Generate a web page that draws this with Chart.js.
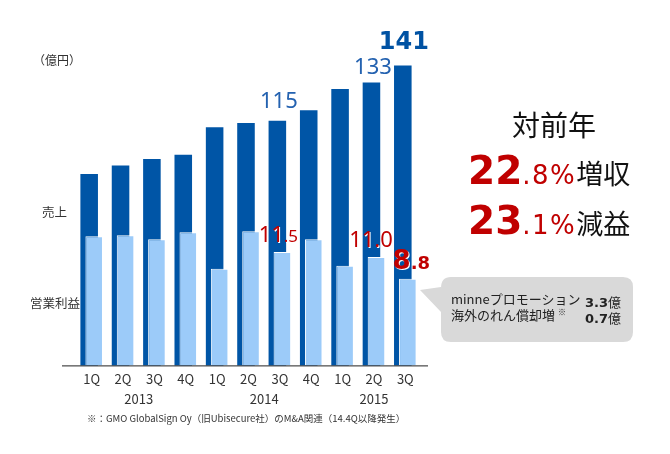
<!DOCTYPE html>
<html lang="ja">
<head>
<meta charset="utf-8">
<script src="https://cdn.jsdelivr.net/npm/chart.js@4.4.0/dist/chart.umd.min.js"></script>
<style>
  html, body { margin: 0; padding: 0; background: #fff; }
  #wrap { position: relative; width: 670px; height: 454px; overflow: hidden; font-family: "Noto Sans CJK JP", sans-serif; color: #333; }
  #chart { position: absolute; left: 0; top: 0; }
  .note { position: absolute; white-space: nowrap; line-height: 1; }
  #unit { left: 33px; top: 54px; font-size: 12px; }
  #salesTag { left: 42px; top: 206px; font-size: 12.5px; }
  #profitTag { left: 30px; top: 297px; font-size: 12.5px; }
  #footnote { left: 87px; top: 414px; font-size: 9.5px; }
  #yoy { left: 512px; top: 110px; font-size: 28px; color: #111; }
  .rate b { font: bold 39px "DejaVu Sans"; color: #c00000; }
  .rate .dec { font: 26px "DejaVu Sans"; color: #c00000; letter-spacing: 1.5px; }
  .rate .kanji { font-size: 27px; color: #111; }
  #rate1 { left: 468px; top: 148px; }
  #rate2 { left: 468px; top: 198px; }
  #bubble { position: absolute; left: 0; top: 0; }
  .bline { font-size: 13px; color: #222; }
  .bline .amt { position: absolute; left: 134px; font: bold 13px "DejaVu Sans"; }
  .bline .amt i { font: normal 13px "Noto Sans CJK JP"; }
  .bline sup { font-size: 8px; vertical-align: 5px; margin-left: 3px; }
  #bl1 { left: 451px; top: 292px; }
  #bl2 { left: 451px; top: 308px; }
</style>
</head>
<body>
<div id="wrap">
  <canvas id="chart" width="670" height="454"></canvas>
  <svg id="bubble" width="670" height="454">
    <path d="M441,287 L441,288 Q441,277 451,277 L623,277 Q633,277 633,287 L633,332 Q633,342 623,342 L451,342 Q441,342 441,332 L441,312 L420,290 Z" fill="#d9d9d9"/>
  </svg>
  <div class="note" id="unit">（億円）</div>
  <div class="note" id="salesTag">売上</div>
  <div class="note" id="profitTag">営業利益</div>
  <div class="note" id="footnote">※：GMO GlobalSign Oy（旧Ubisecure社）のM&amp;A関連（14.4Q以降発生）</div>
  <div class="note" id="yoy">対前年</div>
  <div class="note rate" id="rate1"><b>22</b><span class="dec">.8%</span><span class="kanji">増収</span></div>
  <div class="note rate" id="rate2"><b>23</b><span class="dec">.1%</span><span class="kanji">減益</span></div>
  <div class="note bline" id="bl1">minneプロモーション<span class="amt">3.3<i>億</i></span></div>
  <div class="note bline" id="bl2">海外のれん償却増<sup>※</sup><span class="amt">0.7<i>億</i></span></div>
</div>
<script>
const quarterLabels = ['1Q', '2Q', '3Q', '4Q', '1Q', '2Q', '3Q', '4Q', '1Q', '2Q', '3Q'];
const yearLabels = ['2013', '2014', '2015'];
const quartersPerYear = [4, 4, 3];

// 売上 (億円)
const salesValues = [90, 94, 97, 99, 112, 114, 115, 120, 130, 133, 141];
// 営業利益 (億円)
const profitValues = [13.1, 13.2, 12.8, 13.5, 9.8, 13.6, 11.5, 12.8, 10.1, 11.0, 8.8];

// which quarters get a value label, and how they are placed
const salesCallouts = [
  { index: 6, lift: 13, dx: 1.5, bold: false },
  { index: 9, lift: 9, dx: 1.5, bold: false },
  { index: 10, lift: 17, dx: 1, bold: true },
];
const profitCallouts = [
  { index: 6, lift: 10, dx: -4, bold: false },
  { index: 9, lift: 10, dx: -5.5, bold: false },
  { index: 10, lift: 10, dx: 3.5, bold: true },
];

const darkBlue = '#0055a6';
const lightBlue = '#9ccbf9';
const red = '#c00000';

// the profit bars sit on top of the sales bars, but grouped bars draw the first dataset last
const drawOrder = {
  id: 'drawOrder',
  beforeDatasetDraw(chart, args) {
    if (args.index === 0) return false;
    if (args.index === 1) chart.getDatasetMeta(0).controller.draw();
  },
};

const baseLine = {
  id: 'baseLine',
  afterDatasetsDraw(chart) {
    const { ctx, chartArea } = chart;
    ctx.save();
    ctx.strokeStyle = '#222';
    ctx.lineWidth = 1;
    ctx.beginPath();
    ctx.moveTo(chartArea.left - 14, chartArea.bottom + 0.5);
    ctx.lineTo(chartArea.right + 7, chartArea.bottom + 0.5);
    ctx.stroke();
    ctx.restore();
  },
};

const yearRow = {
  id: 'yearRow',
  afterDraw(chart) {
    const { ctx, chartArea } = chart;
    const xScale = chart.scales.x;
    ctx.save();
    ctx.font = '13px "Noto Sans CJK JP"';
    ctx.fillStyle = '#333';
    ctx.textAlign = 'center';
    ctx.textBaseline = 'middle';
    let start = 0;
    yearLabels.forEach((year, n) => {
      const end = start + quartersPerYear[n] - 1;
      const x = (xScale.getPixelForValue(start) + xScale.getPixelForValue(end)) / 2;
      ctx.fillText(year, x, chartArea.bottom + 34);
      start = end + 1;
    });
    ctx.restore();
  },
};

const drawParts = (ctx, parts, centerX, baseY) => {
  let total = 0;
  parts.forEach((p) => { ctx.font = p.font; total += ctx.measureText(p.text).width; });
  let x = centerX - total / 2;
  parts.forEach((p) => {
    ctx.font = p.font;
    ctx.fillText(p.text, x, baseY);
    x += ctx.measureText(p.text).width;
  });
};

const valueLabels = {
  id: 'valueLabels',
  afterDatasetsDraw(chart) {
    const { ctx } = chart;
    const salesMeta = chart.getDatasetMeta(0);
    const profitMeta = chart.getDatasetMeta(1);
    ctx.save();
    ctx.textAlign = 'left';
    ctx.textBaseline = 'alphabetic';

    salesCallouts.forEach((c) => {
      const bar = salesMeta.data[c.index];
      ctx.fillStyle = c.bold ? '#0052a3' : '#2462b0';
      const font = c.bold ? 'bold 24px "DejaVu Sans"' : '22px "Noto Sans"';
      drawParts(ctx, [{ text: String(salesValues[c.index]), font }], bar.x + c.dx, bar.y - c.lift);
    });

    ctx.shadowColor = '#fff';
    ctx.shadowOffsetX = 1;
    ctx.shadowOffsetY = 1;
    profitCallouts.forEach((c) => {
      const bar = profitMeta.data[c.index];
      const [whole, frac] = profitValues[c.index].toFixed(1).split('.');
      const bigFont = c.bold ? 'bold 26px "DejaVu Sans"' : '22px "Noto Sans"';
      const smallFont = c.bold ? 'bold 18px "DejaVu Sans"' : (frac === '0' ? '22px "Noto Sans"' : '17px "Noto Sans"');
      ctx.fillStyle = red;
      drawParts(ctx, [{ text: whole, font: bigFont }, { text: '.' + frac, font: smallFont }], bar.x + c.dx, bar.y - c.lift);
    });
    ctx.restore();
  },
};

new Chart(document.getElementById('chart'), {
  type: 'bar',
  data: {
    labels: quarterLabels,
    datasets: [
      {
        label: '売上',
        data: salesValues,
        yAxisID: 'y',
        backgroundColor: darkBlue,
        categoryPercentage: 0.32,
        barPercentage: 3.5,
      },
      {
        label: '営業利益',
        data: profitValues,
        yAxisID: 'y2',
        backgroundColor: lightBlue,
        borderColor: '#fff',
        borderWidth: { top: 1, left: 1, right: 1, bottom: 0 },
        borderSkipped: 'bottom',
        categoryPercentage: 0.32,
        barPercentage: 3.5,
      },
    ],
  },
  options: {
    responsive: false,
    animation: false,
    layout: { padding: { left: 76, right: 249, top: 40, bottom: 61 } },
    plugins: { legend: { display: false }, tooltip: { enabled: false } },
    scales: {
      x: {
        grid: { display: false, drawTicks: false },
        border: { display: false },
        ticks: { color: '#333', font: { family: 'Noto Sans CJK JP', size: 13 }, padding: 6, maxRotation: 0 },
      },
      y: { display: false, min: 0, max: 153 },
      y2: { display: false, min: 0, max: 33 },
    },
  },
  plugins: [drawOrder, baseLine, yearRow, valueLabels],
});
</script>
</body>
</html>
